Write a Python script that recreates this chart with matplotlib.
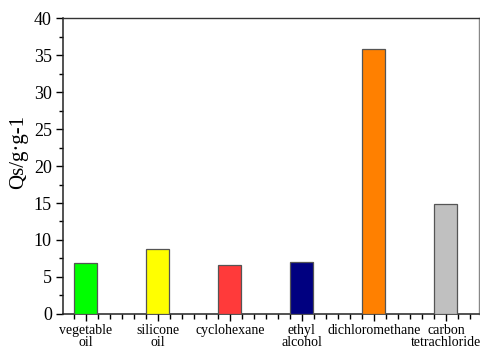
import numpy as np
import matplotlib
matplotlib.use("Agg")
import matplotlib.pyplot as plt
from matplotlib.ticker import MultipleLocator

# Saturated adsorption capacity for each solvent
solvents = ['vegetable\noil', 'silicone\noil', 'cyclohexane', 'ethyl\nalcohol',
            'dichloromethane', 'carbon\ntetrachloride']
qs = [6.9, 8.8, 6.6, 7.0, 35.8, 14.9]
colors = ['#00ff00', '#ffff00', '#ff3a3a', '#000080', '#ff8000', '#c0c0c0']

plt.rcParams['font.family'] = ['Liberation Serif', 'DejaVu Serif']

fig = plt.figure(figsize=(4.81, 3.49), dpi=100)
ax = fig.add_axes([0.131, 0.1003, 0.865, 0.8481])

x = np.arange(1, len(qs) + 1)
ax.bar(x, qs, width=0.32, color=colors, edgecolor='#555555', linewidth=0.9, zorder=3)

ax.set_xlim(0.685, 6.46)
ax.set_ylim(0, 40)
ax.set_xticks(x)
ax.set_xticklabels(solvents, fontsize=10, linespacing=0.95)
ax.xaxis.set_minor_locator(MultipleLocator(1 / 6))
ax.yaxis.set_major_locator(MultipleLocator(5))
ax.yaxis.set_minor_locator(MultipleLocator(2.5))

ax.tick_params(axis='y', which='major', direction='out', length=5, width=1, labelsize=13, pad=3)
ax.tick_params(axis='y', which='minor', direction='out', length=3, width=1)
ax.tick_params(axis='x', which='major', direction='out', length=5, width=1, pad=2)
ax.tick_params(axis='x', which='minor', direction='out', length=3.5, width=1)

ax.set_ylabel('Qs/g·g-1', fontsize=15)
ax.yaxis.set_label_coords(-0.084, 0.547)

for side in ['left', 'bottom']:
    ax.spines[side].set_linewidth(1.1)
    ax.spines[side].set_color('#222222')
ax.spines['top'].set_linewidth(1.0)
ax.spines['top'].set_color('#333333')
ax.spines['right'].set_linewidth(1.0)
ax.spines['right'].set_color('#888888')

fig.savefig('out.png', dpi=100)
